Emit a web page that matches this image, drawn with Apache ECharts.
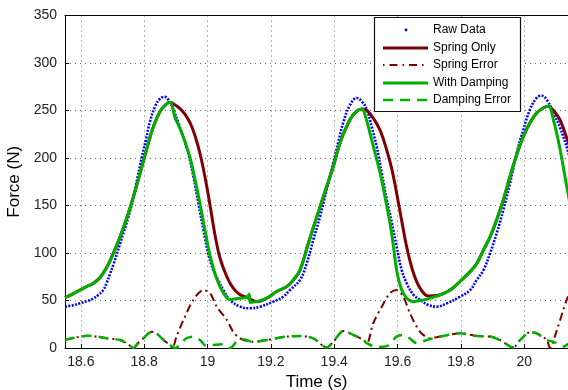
<!DOCTYPE html>
<html><head><meta charset="utf-8">
<script src="https://cdn.jsdelivr.net/npm/echarts/dist/echarts.min.js"></script>
<style>html,body{margin:0;padding:0;background:#fff}#c{width:568px;height:390px}</style>
</head><body><div id="c"></div>
<script>
// ---- data ----
const rawT = [18.550,18.575,18.597,18.620,18.639,18.656,18.671,18.682,18.692,18.703,18.724,18.750,18.766,18.778,18.792,18.806,18.818,18.834,18.850,18.864,18.876,18.892,18.908,18.924,18.939,18.955,18.971,18.987,19.002,19.018,19.034,19.050,19.071,19.103,19.134,19.166,19.208,19.239,19.260,19.292,19.313,19.334,19.355,19.376,19.397,19.413,19.429,19.450,19.471,19.487,19.503,19.518,19.534,19.550,19.566,19.582,19.597,19.613,19.629,19.650,19.671,19.697,19.724,19.755,19.797,19.829,19.850,19.871,19.892,19.913,19.934,19.955,19.976,19.997,20.018,20.039,20.055,20.071,20.092,20.113,20.138,20.160];
const rawF = [43.5,45,47,49.5,52,56,61,69,78,88,110,138,158,178,200,220,238,254,262.5,264.3,261.4,251,237,221,205,181,152.5,124.4,99.8,82,71,61,50.6,43.5,41.8,43.5,48.8,54,61,71.7,89,114,138,166.6,194.7,217,238,256,263.2,259.6,251,233,212,184,156,131.5,106.8,82,68,56,50.6,45.3,43.5,47,54,61,71.7,82,99.8,121,145.5,173.6,205,229.8,251,263.2,265.6,261.4,247.4,232,207,180];

const springT = [18.550,18.575,18.597,18.620,18.639,18.660,18.682,18.703,18.724,18.750,18.771,18.792,18.810,18.829,18.850,18.871,18.882,18.897,18.913,18.929,18.945,18.960,18.976,18.992,19.008,19.023,19.039,19.061,19.081,19.103,19.124,19.155,19.187,19.218,19.250,19.271,19.292,19.318,19.345,19.371,19.397,19.418,19.439,19.460,19.487,19.503,19.523,19.545,19.566,19.582,19.597,19.613,19.629,19.650,19.671,19.697,19.729,19.766,19.797,19.829,19.850,19.871,19.892,19.913,19.934,19.955,19.976,19.997,20.018,20.039,20.060,20.076,20.092,20.113,20.138,20.160];
const springF = [53,57,61,65,68,74,85,100,117,142,165,190,212,233,249,257,258.6,256,252,246,237,224,205,180,150,120,95,75,63,56,53.4,48.8,52.4,59.4,64.6,71.7,82,110,138,164.8,191,215.8,233,245.6,251.6,250,242,229,208,188,163,134,106,79,63,54.8,55.5,61,70,80.4,89,103,117,135,156,180.6,203.5,222.8,237,247.4,252.7,254.4,250,240,217,195];

const dampT = [18.550,18.575,18.597,18.620,18.639,18.660,18.682,18.703,18.724,18.750,18.771,18.792,18.810,18.829,18.850,18.871,18.882,18.897,18.913,18.929,18.945,18.960,18.976,18.992,19.008,19.029,19.050,19.071,19.103,19.124,19.131,19.135,19.155,19.187,19.218,19.250,19.271,19.292,19.318,19.345,19.371,19.397,19.418,19.439,19.460,19.487,19.497,19.513,19.529,19.545,19.560,19.576,19.587,19.597,19.613,19.629,19.650,19.671,19.692,19.713,19.734,19.766,19.797,19.829,19.850,19.871,19.892,19.913,19.934,19.955,19.976,19.997,20.018,20.039,20.060,20.076,20.092,20.113,20.134,20.160];
const dampF = [53,57,61,65,68,74,85,100,117,142,165,190,212,233,249,257,258.6,243,231,217,200,178,152,124,97,73,58,51,52.4,53.4,56.5,48,48.8,52.4,59.4,64.6,71.7,82,110,138,164.8,191,215.8,233,245.6,251.6,245.6,226,205,184,159.5,131.5,106.8,82,61,52.4,48.8,50,51.3,53.4,56,61,70,80.4,89,103,117,135,156,180.6,203.5,222.8,237,247.4,252.7,254.4,240,209,170,125];

const springErrT = [18.550,18.575,18.597,18.620,18.639,18.660,18.682,18.724,18.749,18.766,18.780,18.797,18.812,18.824,18.838,18.850,18.866,18.882,18.889,18.902,18.924,18.955,18.987,19.008,19.029,19.061,19.081,19.103,19.145,19.187,19.250,19.292,19.334,19.376,19.397,19.429,19.450,19.492,19.503,19.523,19.550,19.576,19.597,19.618,19.639,19.671,19.703,19.734,19.797,19.850,19.892,19.923,19.965,19.987,20.018,20.039,20.071,20.081,20.103,20.123,20.134,20.160];
const springErrF = [8.4,10.5,11.9,12.8,12.6,11.5,10.2,8.4,4,0,5,10,15,17,15.5,12,7,3.2,0,12,29.5,50.6,61,57.7,43.5,29.5,17,10,6.6,8.4,12,12.6,10.2,0.5,6.6,17.9,15.5,8.4,5,26,43.5,57.7,61,54,36.6,17,10.2,12,15.5,12.6,12,8.4,0.7,8.4,16.5,15.5,8.4,0,19,40,50.6,72];

const dampErrT = [18.550,18.575,18.597,18.620,18.639,18.660,18.682,18.724,18.749,18.766,18.780,18.797,18.812,18.824,18.838,18.850,18.866,18.882,18.897,18.913,18.932,18.955,18.976,18.997,19.018,19.050,19.071,19.103,19.145,19.187,19.250,19.292,19.334,19.376,19.397,19.429,19.450,19.492,19.503,19.534,19.566,19.597,19.618,19.639,19.660,19.692,19.734,19.797,19.850,19.892,19.923,19.965,19.987,20.018,20.039,20.071,20.092,20.123,20.138,20.160];
const dampErrF = [8.4,10.5,11.9,12.8,12.6,11.5,10.2,8.4,4,0,5,10,15,17,15.5,12,7,3.2,0,3.2,10,12,8.4,2,3.2,4,0,10,6.6,8.4,12,12.6,10.2,0.5,6.6,17.9,15.5,8.4,5,1,2,12,13.7,10,5,8.4,12,15.5,12.6,12,8.4,0.7,8.4,16.5,15.5,8.4,6.6,1.4,4,8];

const yTicks = [0,50,100,150,200,250,300,350];
const seriesNames = ['Raw Data','Spring Only','Spring Error','With Damping','Damping Error'];
// ---------------------------------------------

const C_BLUE = '#0000ff', C_RED = '#7f0000', C_GREEN = '#00b000';
const FONT = 'Liberation Sans, Arial, sans-serif';
const zip = (t, f) => t.map((v, i) => [v, f[i]]);

const chart = echarts.init(document.getElementById('c'), null, {renderer: 'canvas'});
const gridDot = {show: true, lineStyle: {color: '#666', type: [1, 4], width: 1}};

const lineSeries = (name, t, f, color, width, type, smooth) => ({
  name, type: 'line', data: zip(t, f), symbol: 'none', showSymbol: false,
  smooth: smooth, clip: true, animation: false,
  lineStyle: {color, width, type, cap: 'butt'}
});

const lx0 = 383, lx1 = 428, ltx = 433;
const rowsY = [30, 48, 65, 83, 100];

chart.setOption({
  animation: false,
  grid: {left: 65, right: 0, top: 15.5, bottom: 42, containLabel: false, outerBoundsMode: 'none'},
  xAxis: [{
    type: 'value', min: 18.55, max: 20.138, splitNumber: 8,
    name: 'Time (s)', nameLocation: 'middle', nameGap: 25,
    nameTextStyle: {fontFamily: FONT, fontSize: 17, color: '#000'},
    axisLine: {show: true, onZero: false, lineStyle: {color: '#000', width: 1}},
    axisTick: {show: true, inside: true, length: 4, lineStyle: {color: '#000'}},
    axisLabel: {fontFamily: FONT, fontSize: 14, color: '#222', margin: 7,
      showMinLabel: false, showMaxLabel: false,
      formatter: v => (Math.abs(v * 5 - Math.round(v * 5)) < 1e-6 ? String(+v.toFixed(1)) : '')},
    splitLine: gridDot
  }, {
    type: 'value', position: 'top', min: 18.55, max: 20.138,
    axisLine: {show: true, onZero: false, lineStyle: {color: '#000', width: 1}},
    axisTick: {show: false}, axisLabel: {show: false}, splitLine: {show: false}
  }],
  yAxis: {
    type: 'value', min: yTicks[0], max: yTicks[yTicks.length - 1], interval: 50,
    name: 'Force (N)', nameLocation: 'middle', nameGap: 29,
    nameTextStyle: {fontFamily: FONT, fontSize: 17, color: '#000'},
    axisLine: {show: true, onZero: false, lineStyle: {color: '#000', width: 1}},
    axisTick: {show: true, inside: true, length: 4, lineStyle: {color: '#000'}},
    axisLabel: {fontFamily: FONT, fontSize: 14, color: '#222', margin: 8},
    splitLine: gridDot
  },
  series: [
    lineSeries(seriesNames[0], rawT, rawF, C_BLUE, 2.6, [2, 1.4], 0.4),
    lineSeries(seriesNames[1], springT, springF, C_RED, 3, 'solid', 0.4),
    lineSeries(seriesNames[2], springErrT, springErrF, C_RED, 2, [8, 4, 2, 4], 0.3),
    lineSeries(seriesNames[3], dampT, dampF, C_GREEN, 3, 'solid', 0.4),
    lineSeries(seriesNames[4], dampErrT, dampErrF, C_GREEN, 2.5, [10, 7], 0.3)
  ],
  graphic: [
    {type: 'rect', z: 100, shape: {x: 374.5, y: 17.5, width: 146, height: 94},
     style: {fill: '#fff', stroke: '#111', lineWidth: 1.2}},
    {type: 'circle', z: 101, shape: {cx: 406, cy: rowsY[0], r: 1.4}, style: {fill: C_BLUE}},
    {type: 'line', z: 101, shape: {x1: lx0, y1: rowsY[1], x2: lx1, y2: rowsY[1]}, style: {stroke: C_RED, lineWidth: 3}},
    {type: 'line', z: 101, shape: {x1: lx0, y1: rowsY[2], x2: lx1, y2: rowsY[2]}, style: {stroke: C_RED, lineWidth: 2, lineDash: [1.5, 5, 8, 5]}},
    {type: 'line', z: 101, shape: {x1: lx0, y1: rowsY[3], x2: lx1, y2: rowsY[3]}, style: {stroke: C_GREEN, lineWidth: 3}},
    {type: 'line', z: 101, shape: {x1: lx0, y1: rowsY[4], x2: lx1, y2: rowsY[4]}, style: {stroke: C_GREEN, lineWidth: 2.5, lineDash: [10, 7]}},
  ].concat(seriesNames.map((n, i) => ({
    type: 'text', z: 101, x: ltx, y: rowsY[i],
    style: {text: n, fontFamily: FONT, fontSize: 12, fill: '#000', verticalAlign: 'middle', align: 'left'}
  })))
});
</script>
</body></html>
